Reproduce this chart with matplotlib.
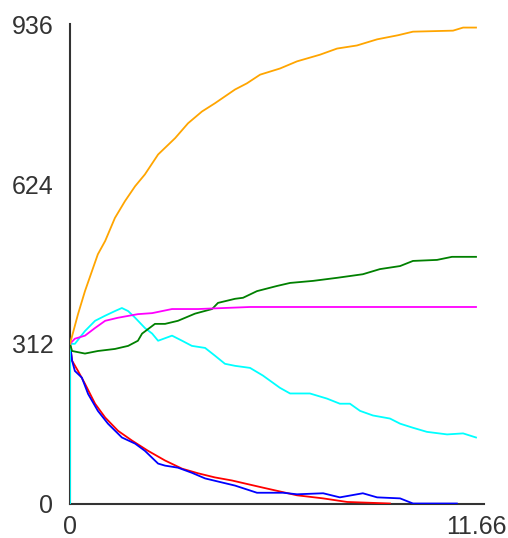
import matplotlib
matplotlib.use("Agg")
import matplotlib.pyplot as plt

# values
orange_x = [0, 0.23, 0.43, 0.63, 0.80, 1.01, 1.29, 1.58, 1.87, 2.15, 2.53, 3.02, 3.39, 3.79,
            4.16, 4.74, 5.08, 5.46, 6.03, 6.52, 7.18, 7.67, 8.24, 8.82, 9.42, 9.85, 11.0, 11.29, 11.66]
orange_y = [312, 370, 415, 454, 487, 513, 558, 591, 620, 643, 682, 714, 743, 766,
            782, 809, 821, 838, 850, 864, 877, 889, 895, 907, 915, 922, 924, 930, 930]

magenta_x = [0, 0.14, 0.43, 0.72, 1.01, 1.38, 1.95, 2.36, 2.93, 3.68, 5.17, 11.66]
magenta_y = [312, 322, 328, 343, 357, 363, 370, 372, 380, 380, 384, 384]

green_x = [0, 0.06, 0.43, 0.80, 1.29, 1.67, 1.95, 2.07, 2.44, 2.73, 3.10, 3.59, 4.08, 4.25,
           4.74, 4.97, 5.37, 5.94, 6.32, 6.98, 7.67, 8.41, 8.90, 9.48, 9.85, 10.54, 10.97, 11.66]
green_y = [312, 298, 293, 298, 302, 308, 318, 332, 351, 351, 357, 371, 380, 392,
           400, 402, 415, 425, 431, 435, 441, 448, 458, 464, 474, 476, 482, 482]

cyan_x = [0, 0, 0.14, 0.43, 0.72, 1.01, 1.29, 1.49, 1.67, 1.87, 2.15, 2.36, 2.53, 2.93, 3.22,
          3.50, 3.88, 4.16, 4.45, 4.74, 5.17, 5.54, 6.03, 6.32, 6.89, 7.38, 7.75, 8.04, 8.33,
          8.70, 9.19, 9.48, 9.85, 10.25, 10.83, 11.29, 11.66]
cyan_y = [0, 312, 312, 337, 357, 367, 376, 382, 376, 363, 343, 332, 318, 328, 318,
          308, 304, 289, 273, 269, 265, 250, 226, 215, 215, 205, 195, 195, 181,
          172, 166, 156, 148, 140, 135, 137, 129]

red_x = [0, 0.06, 0.23, 0.43, 0.72, 1.01, 1.38, 1.78, 2.24, 2.73, 3.22, 3.68, 4.16, 4.65,
         5.54, 6.52, 7.27, 7.96, 9.19]
red_y = [312, 279, 259, 234, 195, 168, 142, 123, 103, 84, 68, 59, 51, 45,
         31, 16, 10, 3, 0]

blue_x = [0, 0.06, 0.14, 0.34, 0.52, 0.80, 1.09, 1.49, 1.87, 2.15, 2.53, 2.73, 3.10, 3.50,
          3.88, 4.37, 4.74, 5.37, 6.12, 6.52, 7.27, 7.75, 8.41, 8.82, 9.48, 9.85, 11.11]
blue_y = [312, 279, 259, 246, 214, 181, 156, 129, 117, 103, 78, 74, 70, 60,
          49, 41, 35, 21, 21, 18, 20, 12, 20, 12, 10, 0, 0]

yticks = [0, 312, 624, 936]
xticks = [0, 11.66]
xticklabels = ["0", "11.66"]

plt.rcParams['font.family'] = ['Liberation Sans', 'DejaVu Sans']

fig = plt.figure(figsize=(5.08, 5.38), dpi=100)
ax = fig.add_axes([70/508, (538-503.5)/538, 414/508, 480/538])

lw = 1.3
ax.plot(red_x, red_y, color='#ff0000', lw=lw)
ax.plot(blue_x, blue_y, color='#0000ff', lw=lw)
ax.plot(cyan_x, cyan_y, color='#00ffff', lw=lw)
ax.plot(green_x, green_y, color='#008000', lw=lw)
ax.plot(magenta_x, magenta_y, color='#ff00ff', lw=lw)
ax.plot(orange_x, orange_y, color='#ffa500', lw=lw)

ax.set_xlim(0, 11.66 * 414 / 406)
ax.set_ylim(0, 936 * 480 / 479)

for s in ['top', 'right']:
    ax.spines[s].set_visible(False)
for s in ['left', 'bottom']:
    ax.spines[s].set_color('#333333')
    ax.spines[s].set_linewidth(1.5)
    ax.spines[s].set_zorder(0)

ax.set_yticks(yticks)
ax.set_yticklabels([str(v) for v in yticks])
ax.set_xticks(xticks)
ax.set_xticklabels(xticklabels)
ax.tick_params(axis='both', length=0, labelsize=18, colors='#333333')
ax.tick_params(axis='y', pad=12)
ax.tick_params(axis='x', pad=8)

fig.savefig("out.png", dpi=100)
